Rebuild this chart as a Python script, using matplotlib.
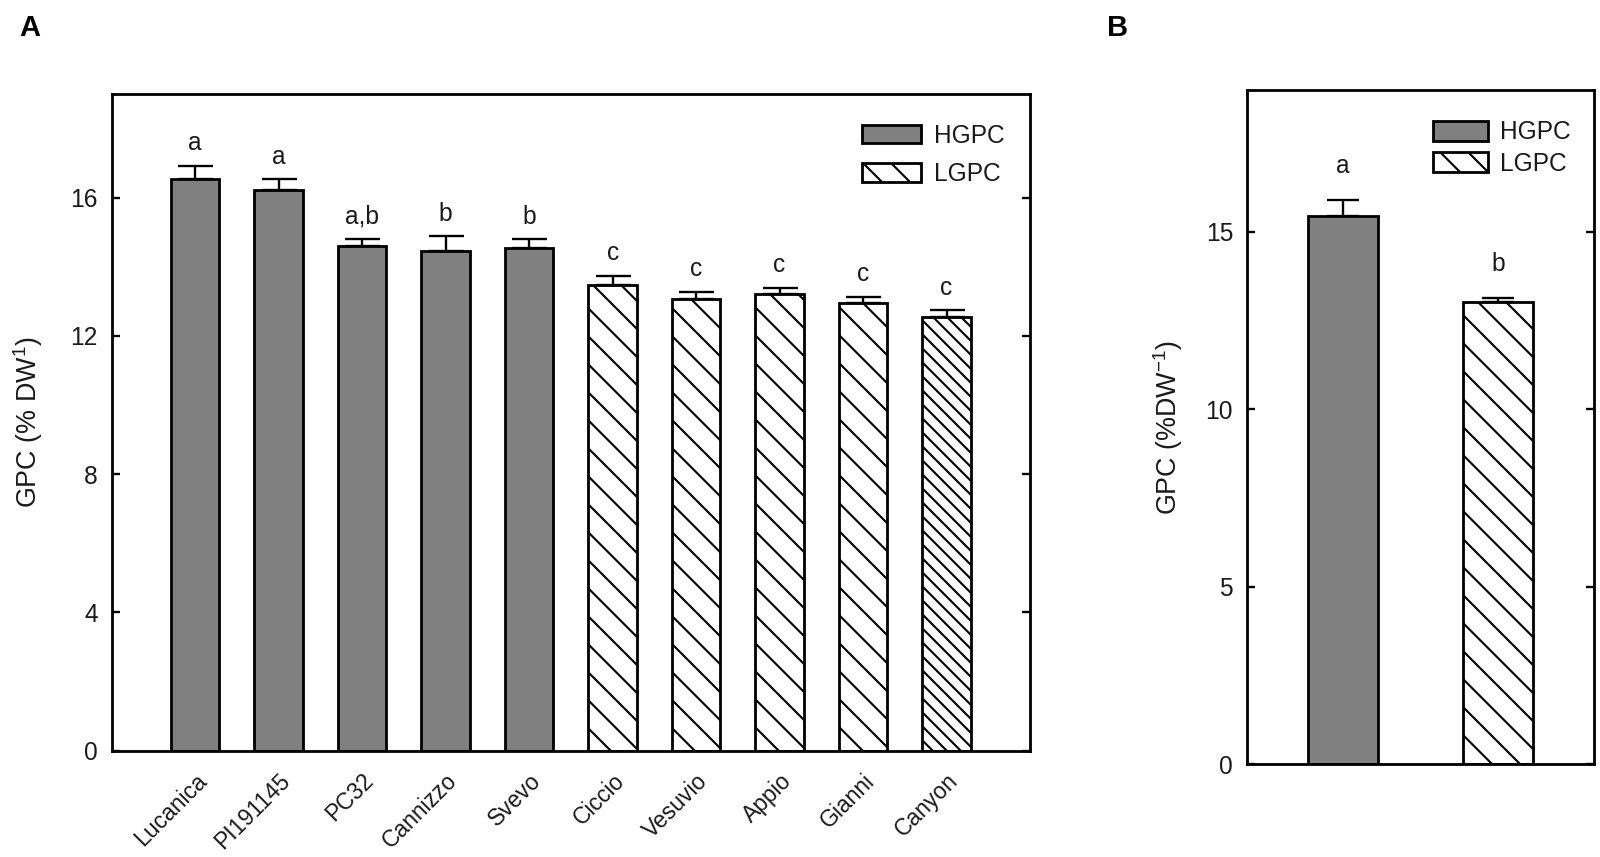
import numpy as np
import matplotlib
matplotlib.use("Agg")
import matplotlib.pyplot as plt
from matplotlib.patches import Patch

plt.rcParams["font.family"] = ["Liberation Sans", "DejaVu Sans"]
plt.rcParams["hatch.linewidth"] = 0.9

# panel A data
cultivars = ["Lucanica", "PI191145", "PC32", "Cannizzo", "Svevo",
             "Ciccio", "Vesuvio", "Appio", "Gianni", "Canyon"]
gpc = [16.53, 16.21, 14.61, 14.47, 14.54, 13.48, 13.08, 13.22, 12.95, 12.55]
gpc_err = [0.40, 0.32, 0.19, 0.41, 0.26, 0.26, 0.20, 0.18, 0.18, 0.19]
letters_a = ["a", "a", "a,b", "b", "b", "c", "c", "c", "c", "c"]
group_a = ["HGPC"] * 5 + ["LGPC"] * 5

# panel B data
groups = ["HGPC", "LGPC"]
gpc_b = [15.45, 13.02]
gpc_b_err = [0.44, 0.12]
letters_b = ["a", "b"]

grey = "#808080"
txt = "#1a1a1a"
DPI = 168
fig = plt.figure(figsize=(1600 / DPI, 857 / DPI), dpi=DPI)

# ---- panel A
ax = fig.add_axes([0.0698, 0.124, 0.574, 0.7663])
x = np.arange(len(cultivars))
for i in range(len(cultivars)):
    if group_a[i] == "HGPC":
        fc, hatch = grey, None
    else:
        fc = "white"
        hatch = "\\\\\\\\" if cultivars[i] == "Canyon" else "\\\\"
    ax.bar(x[i], gpc[i], width=0.58, color=fc, edgecolor="black",
           linewidth=1.2, hatch=hatch, zorder=2)
ax.errorbar(x, gpc, yerr=[np.zeros(len(gpc)), gpc_err], fmt="none",
            ecolor="black", elinewidth=1.0, capsize=7.5, capthick=1.0, zorder=3)
for i in range(len(cultivars)):
    ax.annotate(letters_a[i], (x[i], gpc[i] + gpc_err[i]), xytext=(0, 4.5),
                textcoords="offset points", ha="center", va="bottom",
                fontsize=10.5, color=txt)

ax.set_xlim(-1, len(cultivars))
ax.set_ylim(0, 19)
ax.set_yticks([0, 4, 8, 12, 16])
ax.set_xticks(x)
ax.set_xticklabels(cultivars, rotation=45, ha="right", rotation_mode="anchor",
                   fontsize=9.8, color=txt)
ax.tick_params(axis="x", length=0, pad=8)
ax.tick_params(axis="y", direction="in", length=3.5, width=1.0, right=True,
               labelsize=10.5, labelcolor=txt, pad=6)
for s in ax.spines.values():
    s.set_linewidth(1.2)
ax.set_ylabel("GPC (% DW$^{\\mathregular{1}}$)", fontsize=11.5, color=txt, labelpad=11)

leg_a = [Patch(facecolor=grey, edgecolor="black", linewidth=1.2, label="HGPC"),
         Patch(facecolor="white", edgecolor="black", linewidth=1.2, hatch="\\\\", label="LGPC")]
ax.legend(handles=leg_a, loc="upper left", bbox_to_anchor=(0.817, 0.955),
          frameon=False, fontsize=10.5, handlelength=2.4, handleheight=0.8,
          handletextpad=0.55, labelspacing=0.6, borderpad=0, borderaxespad=0,
          labelcolor=txt)

# ---- panel B
bx = fig.add_axes([0.7794, 0.1085, 0.2169, 0.7865])
xb = np.arange(len(groups))
bx.bar(xb[0], gpc_b[0], width=0.45, color=grey, edgecolor="black", linewidth=1.2, zorder=2)
bx.bar(xb[1], gpc_b[1], width=0.45, color="white", edgecolor="black", linewidth=1.2,
       hatch="\\\\", zorder=2)
bx.errorbar(xb, gpc_b, yerr=[np.zeros(len(gpc_b)), gpc_b_err], fmt="none",
            ecolor="black", elinewidth=1.0, capsize=7, capthick=1.0, zorder=3)
for i in range(len(groups)):
    bx.annotate(letters_b[i], (xb[i], gpc_b[i] + gpc_b_err[i]), xytext=(0, 9.5),
                textcoords="offset points", ha="center", va="bottom",
                fontsize=10.5, color=txt)
bx.set_xlim(-0.613, 1.614)
bx.set_ylim(0, 19)
bx.set_yticks([0, 5, 10, 15])
bx.set_xticks([])
bx.tick_params(axis="y", direction="in", length=3.5, width=1.0, right=True,
               labelsize=10.5, labelcolor=txt, pad=6)
for s in bx.spines.values():
    s.set_linewidth(1.2)
bx.set_ylabel("GPC (%DW$^{\\mathregular{-1}}$)", fontsize=11.5, color=txt, labelpad=9)

leg_b = [Patch(facecolor=grey, edgecolor="black", linewidth=1.2, label="HGPC"),
         Patch(facecolor="white", edgecolor="black", linewidth=1.2, hatch="\\\\", label="LGPC")]
bx.legend(handles=leg_b, loc="upper left", bbox_to_anchor=(0.535, 0.955),
          frameon=False, fontsize=10.5, handlelength=2.25, handleheight=0.85,
          handletextpad=0.5, labelspacing=0.3, borderpad=0, borderaxespad=0,
          labelcolor=txt)

fig.text(30 / 1600, 1 - 28 / 857, "A", fontsize=12.5, fontweight="bold", ha="center", va="center")
fig.text(1118 / 1600, 1 - 28 / 857, "B", fontsize=12.5, fontweight="bold", ha="center", va="center")

fig.savefig("out.png", dpi=DPI)
